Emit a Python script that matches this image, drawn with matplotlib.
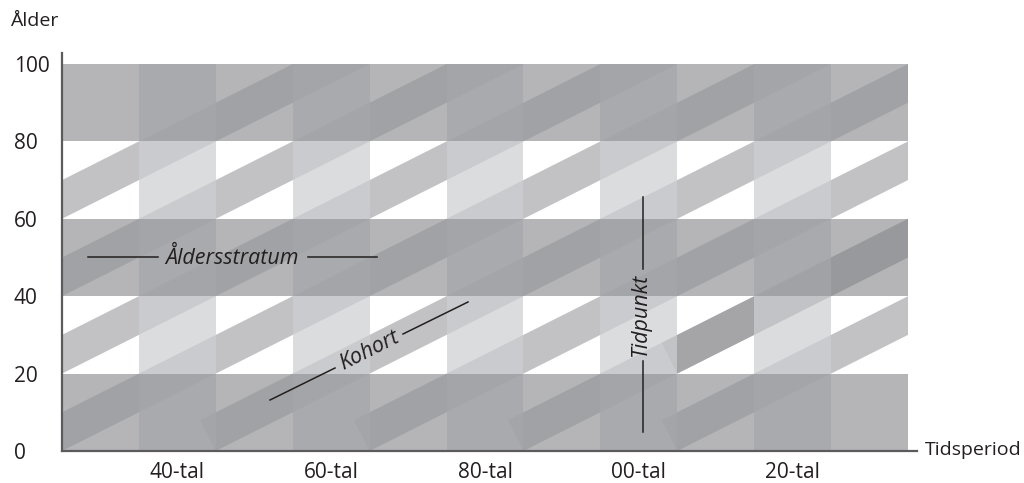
import numpy as np
import matplotlib
matplotlib.use('Agg')
import matplotlib.pyplot as plt
from matplotlib.patches import Polygon, Rectangle
from matplotlib.lines import Line2D

# ---------------- data ----------------
period_start = 1930
period_end = 2040
shaded_decades = [1940, 1960, 1980, 2000, 2020]
decade_len = 10
period_labels = ['40-tal', '60-tal', '80-tal', '00-tal', '20-tal']
strata_low = [0, 40, 80]
strata_high = [20, 60, 100]
age_max = 100
age_ticks = [0, 20, 40, 60, 80, 100]
cohort_births = [1870, 1890, 1910, 1930, 1950, 1970, 1990, 2010]
cohort_width = 10
highlight_birth = 1990
highlight_from = 2010

# ---------------- style ----------------
FONT = ['Open Sans', 'DejaVu Sans']
plt.rcParams['font.family'] = FONT
TXT = '#231f20'
stripe_col = (139/255, 140/255, 143/255)
stripe_alpha = 0.525
column_col = (206/255, 207/255, 210/255)
column_alpha = 0.721
band_col = (147/255, 148/255, 151/255)
band_alpha = 0.686

W, H = 1024, 483
fig = plt.figure(figsize=(W/100, H/100), dpi=100)
ax = fig.add_axes([62/W, (H-451)/H, (917-62)/W, (451-53)/H])
px_per_year = (908-62)/(period_end-period_start)
px_per_age = (451-64)/age_max
ax.set_xlim(period_start, period_start + (917-62)/px_per_year)
ax.set_ylim(0, (451-53)/px_per_age)

clip = Rectangle((period_start, 0), period_end-period_start, age_max,
                 transform=ax.transData, facecolor='none', edgecolor='none')

# perpendicular (in screen space) end of each cohort rectangle
fig.canvas.draw()
p0 = ax.transData.transform((period_start, 0))
p1 = ax.transData.transform((period_start + 1, 1))
sx = p1[0]-p0[0]
sy = p1[1]-p0[1]
t = cohort_width/(sx/sy + sy/sx)
dx, dy = -t*sy/sx, t*sx/sy
L = 400

def cohort_poly(b, start=None):
    if start is None:
        x0, y0 = b, 0.0
    else:
        x0, y0 = start, start-b
    return [(x0, y0), (x0+L, y0+L), (x0+L+dx, y0+L+dy), (x0+dx, y0+dy)]

for b in cohort_births:
    p = Polygon(cohort_poly(b), closed=True, facecolor=stripe_col,
                alpha=stripe_alpha, edgecolor='none', zorder=1)
    ax.add_patch(p)
    p.set_clip_path(clip)

hp = Polygon(cohort_poly(highlight_birth, highlight_from), closed=True,
             facecolor=stripe_col, alpha=stripe_alpha, edgecolor='none', zorder=1.5)
ax.add_patch(hp)
hp.set_clip_path(clip)

for d in shaded_decades:
    r = Rectangle((d, 0), decade_len, age_max, facecolor=column_col,
                  alpha=column_alpha, edgecolor='none', zorder=2)
    ax.add_patch(r)

for lo, hi in zip(strata_low, strata_high):
    r = Rectangle((period_start, lo), period_end-period_start, hi-lo,
                  facecolor=band_col, alpha=band_alpha, edgecolor='none', zorder=3)
    ax.add_patch(r)

# axes styling
for s in ['top', 'right']:
    ax.spines[s].set_visible(False)
for s in ['left', 'bottom']:
    ax.spines[s].set_color('#5b5b5d')
    ax.spines[s].set_linewidth(1.6)
    ax.spines[s].set_zorder(5)

ax.set_yticks(age_ticks)
ax.set_yticklabels([str(a) for a in age_ticks], ha='left', fontsize=15, color=TXT)
ax.tick_params(axis='y', length=0, pad=(62-14)*0.72)
ax.set_xticks([d + decade_len/2 for d in shaded_decades])
ax.set_xticklabels(period_labels, fontsize=15, color=TXT)
ax.tick_params(axis='x', length=0, pad=8)

fig.text(10/W, 1-21/H, 'Ålder', fontsize=14, color=TXT, ha='left', va='center')
fig.text(925/W, 1-450/H, 'Tidsperiod', fontsize=14, color=TXT, ha='left', va='center')

def px(x, y):
    return (x/W, 1-y/H)

def pline(x0, y0, x1, y1):
    a, b = px(x0, y0), px(x1, y1)
    fig.add_artist(Line2D([a[0], b[0]], [a[1], b[1]], transform=fig.transFigure,
                          color=TXT, lw=1.1, zorder=10))

# Åldersstratum
pline(88, 257, 158, 257)
pline(308, 257, 377, 257)
fig.text(*px(232, 258), 'Åldersstratum', fontsize=15.5, style='italic', color=TXT,
         ha='center', va='center', zorder=10)
# Kohort
ang = np.degrees(np.arctan2(sy, sx))
pline(270, 400, 335, 368)
pline(403, 334, 468, 302)
fig.text(*px(369, 351), 'Kohort', fontsize=15.5, style='italic', color=TXT,
         ha='center', va='center', rotation=ang, rotation_mode='anchor', zorder=10)
# Tidpunkt
pline(643, 197, 643, 269)
pline(643, 361, 643, 432)
fig.text(*px(641, 315), 'Tidpunkt', fontsize=15.5, style='italic', color=TXT,
         ha='center', va='center', rotation=90, rotation_mode='anchor', zorder=10)

fig.savefig('out.png', dpi=100)
